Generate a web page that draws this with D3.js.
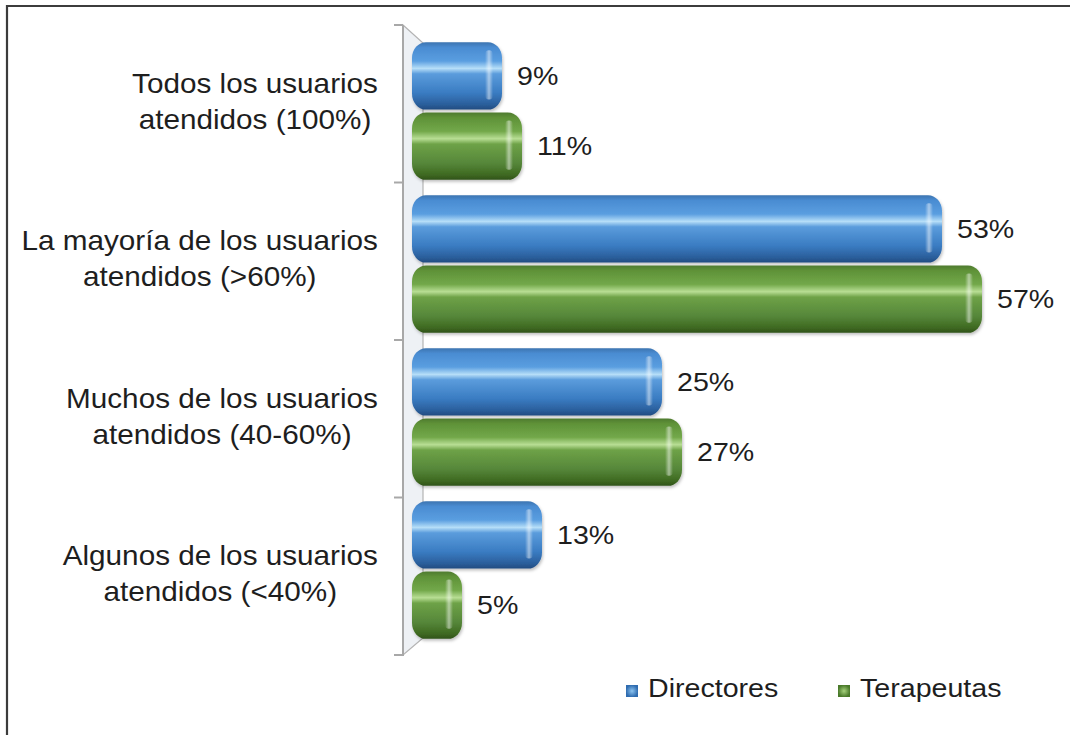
<!DOCTYPE html>
<html><head><meta charset="utf-8">
<script src="https://cdn.jsdelivr.net/npm/d3@7/dist/d3.min.js"></script>
<style>html,body{margin:0;padding:0;background:#fff;}svg{display:block;}</style>
</head><body>
<svg id="chart" width="1070" height="735"></svg>
<script>
const categories = [
  ["Todos los usuarios", "atendidos (100%)"],
  ["La mayoría de los usuarios", "atendidos (>60%)"],
  ["Muchos de los usuarios", "atendidos (40-60%)"],
  ["Algunos de los usuarios", "atendidos (<40%)"]
];
const series = ["Directores", "Terapeutas"];
const directores = [9, 53, 25, 13];
const terapeutas = [11, 57, 27, 5];
const valueLabels = ["9%", "53%", "25%", "13%", "11%", "57%", "27%", "5%"];

const svg = d3.select("#chart");
const W = 1070, H = 735;
const FONT = "'Liberation Sans', Arial, sans-serif";
const catKeys = categories.map((c, i) => i);

// frame
svg.append("path").attr("d", `M7,${H} L7,6 L${W},6`).attr("fill", "none")
  .attr("stroke", "#3c3c3c").attr("stroke-width", 2.2);

const defs = svg.append("defs");
function cyl(id, stops) {
  const g = defs.append("linearGradient").attr("id", id).attr("x1", 0).attr("y1", 0).attr("x2", 0).attr("y2", 1);
  stops.forEach(s => g.append("stop").attr("offset", s[0]).attr("stop-color", s[1]));
}
cyl("gBlue", [[0, "#3c74b0"], [0.08, "#4a8cd2"], [0.28, "#5a9ee0"], [0.39, "#b6def8"], [0.47, "#5b9cdc"], [0.75, "#3a7cc2"], [0.92, "#2b5f9c"], [1, "#214c80"]]);
cyl("gGreen", [[0, "#4e7a2e"], [0.08, "#5f9238"], [0.28, "#72a84a"], [0.39, "#b8de94"], [0.47, "#6ea247"], [0.75, "#56873a"], [0.92, "#3f6a22"], [1, "#30531a"]]);
const spec = defs.append("linearGradient").attr("id", "spec").attr("x1", 0).attr("y1", 0).attr("x2", 1).attr("y2", 0);
spec.append("stop").attr("offset", 0).attr("stop-color", "#fff").attr("stop-opacity", 0);
spec.append("stop").attr("offset", 0.5).attr("stop-color", "#fff").attr("stop-opacity", 0.5);
spec.append("stop").attr("offset", 1).attr("stop-color", "#fff").attr("stop-opacity", 0);
const f = defs.append("filter").attr("id", "shadow").attr("x", "-10%").attr("y", "-10%").attr("width", "120%").attr("height", "130%");
f.append("feDropShadow").attr("dx", 1).attr("dy", 2).attr("stdDeviation", 1.5).attr("flood-color", "#000").attr("flood-opacity", 0.25);
const leg = (id, c1, c2) => {
  const g = defs.append("radialGradient").attr("id", id);
  g.append("stop").attr("offset", 0).attr("stop-color", c1);
  g.append("stop").attr("offset", 1).attr("stop-color", c2);
};
leg("lBlue", "#8cc4f0", "#2f6cb0");
leg("lGreen", "#a6d27c", "#4a7a2a");

// scales
const xScale = d3.scaleLinear().domain([0, 60]).range([412, 1012]);
const axisBand = d3.scaleBand().domain(catKeys).range([25, 655]);
const barBand = d3.scaleBand().domain(catKeys).range([34.5, 646.5]).paddingInner(0.1).paddingOuter(0.05);
const subBand = d3.scaleBand().domain(series).range([0, barBand.bandwidth()]).paddingInner(0.04);
const colors = { Directores: "url(#gBlue)", Terapeutas: "url(#gGreen)" };

// back wall
const wx0 = 403, wx1 = 423;
svg.append("path").attr("d", `M${wx0},25 L${wx1},43 L${wx1},638 L${wx0},655 Z`)
  .attr("fill", "#eef1f5").attr("stroke", "#b4b4b4").attr("stroke-width", 1.2);
// front axis
svg.append("line").attr("x1", wx0).attr("x2", wx0).attr("y1", 25).attr("y2", 656)
  .attr("stroke", "#a8a8a8").attr("stroke-width", 2);
const tickYs = catKeys.map(k => axisBand(k)).concat([axisBand.range()[1]]);
svg.selectAll(".tick").data(tickYs).enter().append("line")
  .attr("x1", 394).attr("x2", wx0).attr("y1", d => d).attr("y2", d => d)
  .attr("stroke", "#a8a8a8").attr("stroke-width", 2);

// bars
const rows = [];
catKeys.forEach(k => {
  rows.push({ k, s: "Directores", v: directores[k], label: valueLabels[k] });
  rows.push({ k, s: "Terapeutas", v: terapeutas[k], label: valueLabels[k + 4] });
});
const gb = svg.append("g");
rows.forEach(r => {
  const y = barBand(r.k) + subBand(r.s);
  const h = subBand.bandwidth();
  const x0 = xScale(0), x1 = xScale(r.v);
  gb.append("rect").attr("x", x0).attr("y", y).attr("width", x1 - x0).attr("height", h)
    .attr("rx", 14).attr("ry", 16).attr("fill", colors[r.s]).attr("filter", "url(#shadow)");
  gb.append("rect").attr("x", x1 - 17).attr("y", y + 8).attr("width", 8).attr("height", h - 18)
    .attr("rx", 4).attr("fill", "url(#spec)");
  gb.append("text").attr("transform", `translate(${x1 + 15},${y + h / 2 + 9}) scale(1.1,1)`)
    .attr("font-family", FONT).attr("font-size", 26).attr("fill", "#1e1e1e").text(r.label);
});

// category labels
categories.forEach((lines, k) => {
  const cy = axisBand(k) + axisBand.bandwidth() / 2;
  const g = svg.append("g");
  const texts = lines.map((ln, i) => g.append("text")
    .attr("font-family", FONT).attr("font-size", 27).attr("fill", "#1e1e1e")
    .attr("text-anchor", "middle").text(ln));
  const maxW = d3.max(texts, t => t.node().getComputedTextLength()) * 1.1;
  const cx = 378 - maxW / 2;
  texts.forEach((t, i) => t.attr("transform", `translate(${cx},${cy + (i === 0 ? -11 : 25)}) scale(1.1,1)`));
});

// legend
const legendData = [{ s: "Directores", x: 626, fill: "url(#lBlue)" }, { s: "Terapeutas", x: 838, fill: "url(#lGreen)" }];
legendData.forEach(d => {
  svg.append("rect").attr("x", d.x).attr("y", 685).attr("width", 12).attr("height", 12).attr("fill", d.fill);
  svg.append("text").attr("transform", `translate(${d.x + 22},697) scale(1.1,1)`)
    .attr("font-family", FONT).attr("font-size", 26).attr("fill", "#1e1e1e").text(d.s);
});
</script>
</body></html>
